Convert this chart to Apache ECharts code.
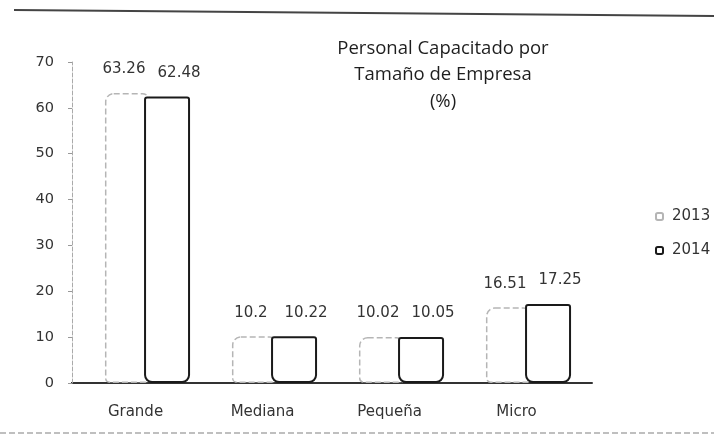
<!DOCTYPE html>
<html><head><meta charset="utf-8">
<script src="https://cdn.jsdelivr.net/npm/echarts@6/dist/echarts.min.js"></script>
<style>html,body{margin:0;padding:0;background:#fff}#c{width:714px;height:444px}</style>
</head><body><div id="c"></div>
<script>
const categories = ['Grande', 'Mediana', 'Pequeña', 'Micro'];
const values2013 = [63.26, 10.2, 10.02, 16.51];
const values2014 = [62.48, 10.22, 10.05, 17.25];
const yTicks = [0, 10, 20, 30, 40, 50, 60, 70];

const chart = echarts.init(document.getElementById('c'));
chart.setOption({
  backgroundColor: '#fff',
  animation: false,
  title: {
    text: 'Personal Capacitado por\nTamaño de Empresa\n(%)',
    left: 438, top: 30, textAlign: 'center',
    textStyle: { fontFamily: 'Open Sans', fontSize: 18.5, fontWeight: 'normal', color: '#1e1e1e', lineHeight: 26.5 }
  },
  legend: {
    orient: 'vertical', left: 650, top: 204, itemGap: 19,
    itemWidth: 7, itemHeight: 7,
    textStyle: { fontFamily: 'DejaVu Sans', fontSize: 15, color: '#333', padding: [0, 0, 0, 4] },
    data: ['2013', '2014']
  },
  grid: { left: 84, right: 122, top: 62, bottom: 61 },
  xAxis: {
    type: 'category', data: categories,
    axisLine: { lineStyle: { color: '#333', width: 2 } },
    axisTick: { show: false },
    axisLabel: { fontFamily: 'DejaVu Sans', fontSize: 15, color: '#333', margin: 22, padding: [0, 24, 0, 0] }
  },
  yAxis: {
    type: 'value', min: 0, max: 70, interval: 10, offset: 12,
    axisLine: { show: true, lineStyle: { color: '#aaa', type: 'dashed' } },
    axisTick: { show: true, length: 4, lineStyle: { color: '#999' } },
    splitLine: { show: false },
    axisLabel: { fontFamily: 'DejaVu Sans', fontSize: 14.5, color: '#333', margin: 18,
      formatter: v => yTicks.includes(v) ? String(v) : '' }
  },
  series: [
    { name: '2013', type: 'bar', data: values2013, barWidth: 46, barGap: '-15%',
      itemStyle: { color: '#fff', borderColor: '#b5b5b5', borderWidth: 1.5, borderType: 'dashed', borderRadius: [8, 8, 4, 4] },
      label: { show: true, position: 'top', distance: 16, fontFamily: 'DejaVu Sans', fontSize: 15, color: '#333', offset: [-4, 0] } },
    { name: '2014', type: 'bar', data: values2014, barWidth: 46,
      itemStyle: { color: '#fff', borderColor: '#1a1a1a', borderWidth: 2, borderRadius: [2, 2, 7, 7] },
      label: { show: true, position: 'top', distance: 16, fontFamily: 'DejaVu Sans', fontSize: 15, color: '#333', offset: [12, 0] } }
  ]
});
const y0 = chart.convertToPixel({ yAxisIndex: 0 }, 0);
chart.setOption({
  graphic: [
    { type: 'line', shape: { x1: 14, y1: 10, x2: 714, y2: 16 }, style: { stroke: '#444', lineWidth: 2 } },
    { type: 'line', shape: { x1: 0, y1: 433, x2: 714, y2: 433 }, style: { stroke: '#aaa', lineWidth: 1.5, lineDash: [6, 3] } },
    { type: 'line', shape: { x1: 71, y1: y0, x2: 85, y2: y0 }, style: { stroke: '#333', lineWidth: 2 } }
  ]
});
</script></body></html>
